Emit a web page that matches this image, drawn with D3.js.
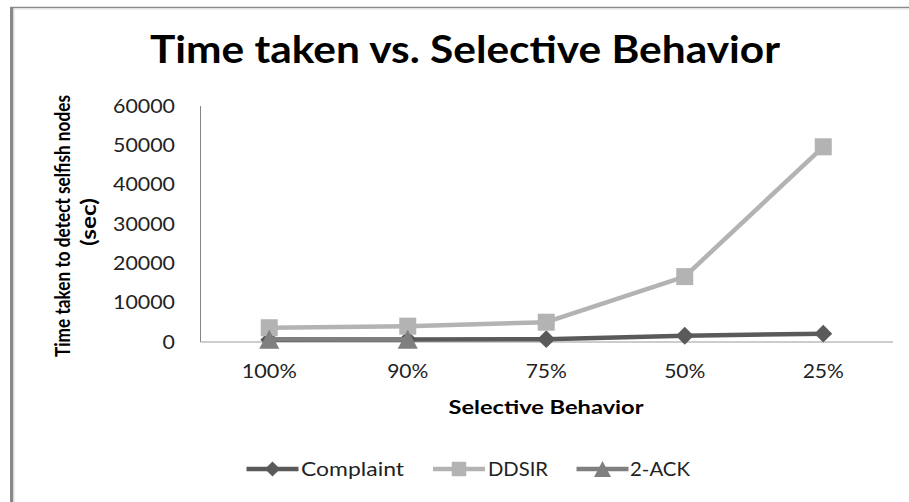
<!DOCTYPE html>
<html>
<head>
<meta charset="utf-8">
<script src="https://cdn.jsdelivr.net/npm/d3@7"></script>
<style>
  html, body { margin: 0; padding: 0; background: #fff; }
  svg { display: block; font-family: Lato, "Open Sans", sans-serif; }
</style>
</head>
<body>
<svg id="chart" width="909" height="502"></svg>
<script>
// ---- data ----
const categories = ["100%", "90%", "75%", "50%", "25%"];
const complaint = [450, 500, 600, 1450, 2000];
const ddsir = [3500, 3900, 4900, 16500, 49500];
const twoAck = [600, 600, null, null, null];
const yTicks = [0, 10000, 20000, 30000, 40000, 50000, 60000];
const seriesNames = ["Complaint", "DDSIR", "2-ACK"];
const titleText = "Time taken vs. Selective Behavior";
const xTitleText = "Selective Behavior";
const yTitleLines = ["Time taken to detect selfish nodes", "(sec)"];

// ---- setup ----
const svg = d3.select("#chart");
svg.append("rect").attr("width", 909).attr("height", 502).attr("fill", "#fff");

// outer frame
svg.append("line").attr("x1", 10).attr("x2", 909).attr("y1", 7.5).attr("y2", 7.5)
  .attr("stroke", "#8a8a8a").attr("stroke-width", 1.5);
svg.append("line").attr("x1", 10).attr("x2", 909).attr("y1", 9).attr("y2", 9)
  .attr("stroke", "#e2e2e2").attr("stroke-width", 1);
svg.append("line").attr("x1", 11.7).attr("x2", 11.7).attr("y1", 7).attr("y2", 502)
  .attr("stroke", "#898989").attr("stroke-width", 3.4);
svg.append("line").attr("x1", 14).attr("x2", 14).attr("y1", 9).attr("y2", 502)
  .attr("stroke", "#e0e0e0").attr("stroke-width", 1);

const x = d3.scaleBand().domain(categories).range([200, 892.5]);
const cx = c => x(c) + x.bandwidth() / 2;
const y = d3.scaleLinear().domain([0, 60000]).range([341.5, 105.5]);

function fitText(sel, w) {
  sel.attr("textLength", w).attr("lengthAdjust", "spacingAndGlyphs");
}

// title
const title = svg.append("text").attr("x", 465).attr("y", 63)
  .attr("text-anchor", "middle").attr("font-weight", "bold").attr("font-size", 38)
  .attr("fill", "#000").text(titleText);
fitText(title, 630);

// y axis
const yAxis = svg.append("g").attr("transform", "translate(200,0)")
  .call(d3.axisLeft(y).tickValues(yTicks).tickSize(0).tickPadding(25).tickFormat(d3.format("d")));
yAxis.select(".domain").attr("stroke", "#868686").attr("stroke-width", 1);
yAxis.selectAll("text").attr("font-size", 18.5).attr("fill", "#222")
  .attr("font-family", "Lato, sans-serif").attr("dy", "0.36em")
  .each(function(d) { const s = String(d); fitText(d3.select(this), 12.4 * s.length); });

// x axis
const xAxis = svg.append("g").attr("transform", "translate(0,341.5)")
  .call(d3.axisBottom(x).tickSize(0).tickPadding(0));
xAxis.select(".domain").attr("stroke", "#9a9a9a").attr("stroke-width", 1);
xAxis.selectAll("text").attr("font-size", 19).attr("fill", "#222")
  .attr("font-family", "Lato, sans-serif").attr("y", 36.5).attr("dy", 0)
  .each(function(d) { fitText(d3.select(this), 13.75 * d.length); });

// axis titles
const xt = svg.append("text").attr("x", 546).attr("y", 414).attr("text-anchor", "middle")
  .attr("font-weight", "bold").attr("font-size", 18).attr("fill", "#000").text(xTitleText);
fitText(xt, 195);

const yt1 = svg.append("text").attr("transform", "translate(70,226) rotate(-90)")
  .attr("text-anchor", "middle").attr("font-weight", "bold").attr("font-size", 21.5)
  .attr("fill", "#000").text(yTitleLines[0]);
fitText(yt1, 262);
const yt2 = svg.append("text").attr("transform", "translate(96,222) rotate(-90)")
  .attr("text-anchor", "middle").attr("font-weight", "bold").attr("font-size", 21.5)
  .attr("fill", "#000").text(yTitleLines[1]);
fitText(yt2, 48);

// series
const colors = ["#5a5a5a", "#b3b3b3", "#7f7f7f"];
const seriesData = [complaint, ddsir, twoAck];
const diamond = d3.symbol().type(d3.symbolSquare).size(160)();
const square = d3.symbol().type(d3.symbolSquare).size(289)();
function triPath(s) { const h = s * 0.95; return `M0,${-h/2}L${s/2},${h/2}L${-s/2},${h/2}Z`; }
const markerPaths = [diamond, square, triPath(20)];
const markerRot = [45, 0, 0];

const line = d3.line().defined(d => d.v != null).x(d => cx(d.c)).y(d => y(d.v));

seriesData.forEach((vals, i) => {
  const pts = categories.map((c, j) => ({ c, v: vals[j] }));
  const g = svg.append("g");
  g.append("path").datum(pts).attr("d", line).attr("fill", "none")
    .attr("stroke", colors[i]).attr("stroke-width", 4.5).attr("stroke-linejoin", "round");
  g.selectAll("path.m").data(pts.filter(d => d.v != null)).join("path").attr("class", "m")
    .attr("d", markerPaths[i]).attr("fill", colors[i])
    .attr("transform", d => `translate(${cx(d.c)},${y(d.v)}) rotate(${markerRot[i]})`);
});

// legend
const legendItems = [
  { x1: 246.5, x2: 298.5, tx: 301, tw: 103 },
  { x1: 433, x2: 485, tx: 488, tw: 60 },
  { x1: 576.5, x2: 628.5, tx: 630, tw: 60 }
];
legendItems.forEach((it, i) => {
  const g = svg.append("g");
  g.append("line").attr("x1", it.x1).attr("x2", it.x2).attr("y1", 469).attr("y2", 469)
    .attr("stroke", colors[i]).attr("stroke-width", 4.5);
  g.append("path").attr("d", markerPaths[i]).attr("fill", colors[i])
    .attr("transform", `translate(${(it.x1 + it.x2) / 2},469) rotate(${markerRot[i]}) scale(0.85)`);
  const t = g.append("text").attr("x", it.tx).attr("y", 476).attr("font-size", 19)
    .attr("fill", "#222").text(seriesNames[i]);
  fitText(t, it.tw);
});
</script>
</body>
</html>
